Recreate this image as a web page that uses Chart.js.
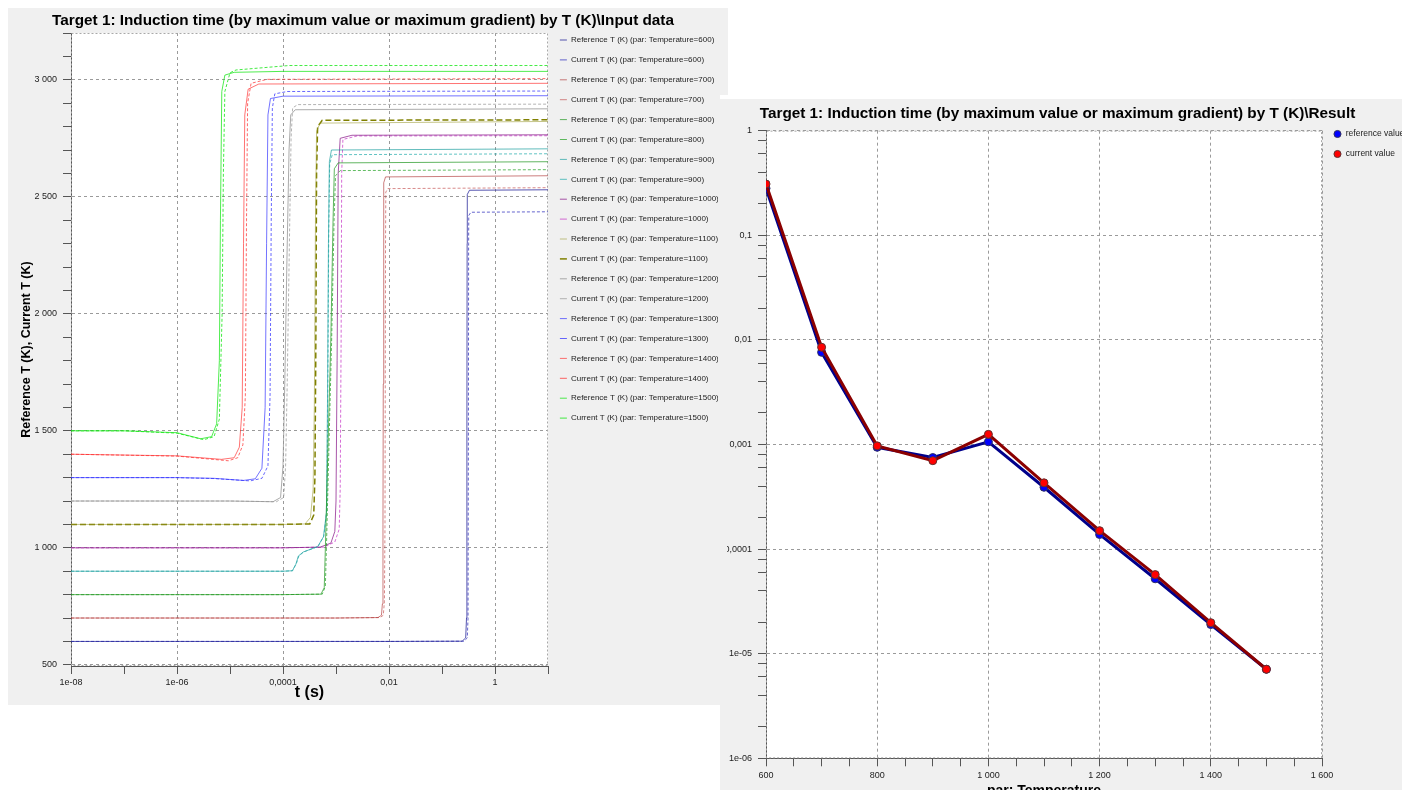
<!DOCTYPE html>
<html lang="en">
<head>
    <meta charset="UTF-8">
    <title>Induction time - Input data / Result</title>
    <script src="https://cdn.jsdelivr.net/npm/chart.js@4.4.0/dist/chart.umd.min.js"></script>
    <style>
        body { margin: 0; background: #fff; width: 1402px; height: 790px; overflow: hidden; position: relative; }
        #leftPanel { position: absolute; left: 8px; top: 8px; width: 720px; height: 697px; background: #f0f0f0; }
        #rightPanel { position: absolute; left: 720px; top: 95px; width: 682px; height: 695px; background: #f0f0f0;
                      border-top: 4px solid #fff; box-sizing: border-box; }
        #rightClip { position: absolute; left: 7px; top: 0; width: 675px; height: 691px; overflow: hidden; }
        #rightChart { position: absolute; left: -14px; top: 0; }
    </style>
</head>
<body>

<div id="leftPanel">
    <canvas id="leftChart" width="720" height="697"></canvas>
</div>
<div id="rightPanel">
    <div id="rightClip">
        <canvas id="rightChart" width="689" height="705"></canvas>
    </div>
</div>

<script>
    // ---- Input data: T (K) against t (s), pairs of [t, T] ----
    var ref600  = [[1e-8,600],[1e-2,600],[0.24,601],[0.28,615],[0.29,700],[0.295,1500],[0.298,2300],[0.30,2510],[0.33,2528],[10,2530]];
    var cur600  = [[1e-8,600],[1e-2,600],[0.26,601],[0.30,615],[0.31,700],[0.315,1500],[0.318,2300],[0.32,2420],[0.35,2434],[10,2436]];
    var ref700  = [[1e-8,700],[1e-3,700],[6.2e-3,702],[7.2e-3,712],[7.5e-3,760],[7.7e-3,1100],[7.8e-3,1700],[7.9e-3,2300],[8.0e-3,2560],[8.6e-3,2585],[10,2590]];
    var cur700  = [[1e-8,700],[1e-3,700],[6.8e-3,702],[7.8e-3,712],[8.2e-3,770],[8.4e-3,1100],[8.5e-3,1700],[8.6e-3,2300],[8.7e-3,2520],[9.5e-3,2535],[10,2539]];
    var ref800  = [[1e-8,800],[1e-4,800],[5.2e-4,802],[6e-4,830],[6.3e-4,1000],[7e-4,1400],[8e-4,1900],[8.8e-4,2400],[9.3e-4,2620],[1.1e-3,2645],[10,2650]];
    var cur800  = [[1e-8,800],[1e-4,800],[5.5e-4,802],[6.3e-4,835],[6.6e-4,1000],[7.3e-4,1400],[8.3e-4,1900],[9.2e-4,2400],[9.8e-4,2590],[1.2e-3,2612],[10,2616]];
    var ref900  = [[1e-8,900],[1e-4,900],[1.5e-4,902],[1.75e-4,930],[1.95e-4,965],[2.4e-4,982],[4.5e-4,1005],[5.8e-4,1047],[6.6e-4,1150],[6.9e-4,1600],[7.2e-4,2300],[7.5e-4,2650],[8.2e-4,2700],[10,2705]];
    var cur900  = [[1e-8,900],[1e-4,900],[1.52e-4,902],[1.8e-4,935],[2e-4,966],[2.5e-4,983],[4.6e-4,1006],[5.9e-4,1050],[6.7e-4,1160],[7e-4,1650],[7.3e-4,2350],[7.6e-4,2640],[8.5e-4,2680],[10,2684]];
    var ref1000 = [[1e-8,1000],[1e-4,1000],[5e-4,1003],[8e-4,1020],[9.5e-4,1070],[1.0e-3,1200],[1.05e-3,1800],[1.1e-3,2600],[1.2e-3,2750],[2e-3,2763],[10,2765]];
    var cur1000 = [[1e-8,1000],[1e-4,1000],[6e-4,1003],[9.5e-4,1025],[1.15e-3,1080],[1.2e-3,1250],[1.25e-3,1900],[1.28e-3,2600],[1.35e-3,2745],[2.5e-3,2760],[10,2761]];
    var ref1100 = [[1e-8,1100],[1e-4,1100],[2.6e-4,1102],[3.3e-4,1130],[3.7e-4,1250],[3.9e-4,1600],[4.1e-4,2400],[4.3e-4,2780],[5e-4,2815],[10,2822]];
    var cur1100 = [[1e-8,1100],[1e-4,1100],[3.2e-4,1102],[3.8e-4,1140],[4.0e-4,1300],[4.15e-4,1800],[4.3e-4,2600],[4.5e-4,2800],[5.5e-4,2827],[10,2829]];
    var ref1200 = [[1e-8,1200],[1e-5,1200],[6.5e-5,1197],[9e-5,1215],[1.0e-4,1350],[1.08e-4,1700],[1.18e-4,2200],[1.3e-4,2700],[1.4e-4,2850],[1.7e-4,2872],[10,2876]];
    var cur1200 = [[1e-8,1200],[1e-5,1200],[7.5e-5,1197],[1.03e-4,1215],[1.12e-4,1350],[1.2e-4,1700],[1.32e-4,2300],[1.42e-4,2750],[1.52e-4,2880],[1.9e-4,2894],[10,2896]];
    var ref1300 = [[1e-8,1300],[1e-6,1300],[5e-6,1297],[1.8e-5,1288],[3e-5,1295],[4e-5,1340],[4.6e-5,1600],[4.9e-5,2300],[5.2e-5,2850],[5.8e-5,2920],[1e-4,2930],[10,2932]];
    var cur1300 = [[1e-8,1300],[1e-6,1300],[5e-6,1296],[2.4e-5,1286],[4e-5,1297],[5.2e-5,1350],[5.7e-5,1650],[6e-5,2400],[6.3e-5,2880],[7e-5,2940],[1.2e-4,2950],[10,2952]];
    var ref1400 = [[1e-8,1400],[1e-6,1393],[6.9e-6,1378],[1.2e-5,1385],[1.5e-5,1430],[1.7e-5,1600],[1.8e-5,2300],[1.9e-5,2850],[2.2e-5,2960],[3.5e-5,2982],[10,2985]];
    var cur1400 = [[1e-8,1400],[1e-6,1392],[9.3e-6,1372],[1.4e-5,1385],[1.75e-5,1440],[1.95e-5,1650],[2.05e-5,2400],[2.15e-5,2900],[2.5e-5,2985],[5e-5,3002],[10,3005]];
    var ref1500 = [[1e-8,1500],[1e-7,1500],[1e-6,1492],[2.8e-6,1466],[4.5e-6,1475],[5.6e-6,1530],[6.3e-6,1800],[6.6e-6,2400],[7.0e-6,2950],[8.0e-6,3020],[1.2e-5,3032],[1e-4,3036],[10,3036]];
    var cur1500 = [[1e-8,1500],[1e-7,1500],[1e-6,1490],[3.2e-6,1462],[5e-6,1475],[6.3e-6,1550],[7.1e-6,2000],[7.5e-6,2600],[8.0e-6,2950],[1e-5,3030],[1.3e-5,3042],[1.3e-4,3061],[10,3061]];

    var inputTemps = [600, 700, 800, 900, 1000, 1100, 1200, 1300, 1400, 1500];
    var refCurves = [ref600, ref700, ref800, ref900, ref1000, ref1100, ref1200, ref1300, ref1400, ref1500];
    var curCurves = [cur600, cur700, cur800, cur900, cur1000, cur1100, cur1200, cur1300, cur1400, cur1500];

    // left axis ticks
    var leftXTicks = [1e-8, 1e-7, 1e-6, 1e-5, 1e-4, 1e-3, 1e-2, 1e-1, 1, 10];
    var leftXLabels = ['1e-08', '', '1e-06', '', '0,0001', '', '0,01', '', '1', ''];
    var leftYMajor = [500, 1000, 1500, 2000, 2500, 3000];

    // ---- Result: induction time against par: Temperature ----
    var resultTemps = [600, 700, 800, 900, 1000, 1100, 1200, 1300, 1400, 1500];
    var referenceValues = [0.281, 0.0076, 0.00094, 0.00075, 0.00106, 0.00039, 0.000138, 5.2e-5, 1.9e-5, 7.1e-6];
    var currentValues = [0.309, 0.0085, 0.00097, 0.00070, 0.00125, 0.00043, 0.00015, 5.7e-5, 1.98e-5, 7.1e-6];

    var rightYDecades = [1e-6, 1e-5, 1e-4, 1e-3, 1e-2, 1e-1, 1];
    var rightYLabels = ['1e-06', '1e-05', '0,0001', '0,001', '0,01', '0,1', '1'];
    var rightXMajor = [600, 800, 1000, 1200, 1400, 1600];

    // styles (one per temperature)
    var refColors = ['rgba(30,30,150,0.75)', 'rgba(170,40,40,0.6)', 'rgba(30,150,30,0.7)', 'rgba(30,160,160,0.7)', 'rgba(140,30,140,0.75)',
                     'rgba(150,150,40,0.55)', 'rgba(150,150,150,0.8)', 'rgba(40,40,255,0.65)', 'rgba(255,40,40,0.65)', 'rgba(20,230,20,0.75)'];
    var curColors = ['rgba(50,50,190,0.75)', 'rgba(190,60,60,0.6)', 'rgba(30,160,30,0.7)', 'rgba(30,170,170,0.7)', 'rgba(200,60,200,0.75)',
                     'rgb(128,128,0)', 'rgba(160,160,160,0.8)', 'rgba(40,40,255,0.7)', 'rgba(255,40,40,0.7)', 'rgba(20,230,20,0.8)'];

    var FONT = '"Liberation Sans", Arial, sans-serif';
    Chart.defaults.font.family = FONT;

    function fmtThousands(v) {
        if (v < 1000) return String(v);
        return Math.floor(v / 1000) + ' ' + String(v % 1000).padStart(3, '0');
    }

    // white plot area and dotted frame like the original tool
    var plotFrame = {
        id: 'plotFrame',
        beforeDraw: function (chart) {
            var a = chart.chartArea, ctx = chart.ctx;
            ctx.save();
            ctx.fillStyle = '#ffffff';
            ctx.fillRect(a.left, a.top, a.right - a.left, a.bottom - a.top);
            ctx.restore();
        },
        beforeDatasetsDraw: function (chart) {
            var a = chart.chartArea, ctx = chart.ctx;
            ctx.save();
            ctx.strokeStyle = '#a8a8a8';
            ctx.lineWidth = 1;
            ctx.setLineDash([2, 2]);
            ctx.strokeRect(a.left + 0.5, a.top + 0.5, a.right - a.left - 1, a.bottom - a.top - 1);
            ctx.restore();
        }
    };

    // ---- left chart ----
    var leftDatasets = [];
    for (var i = 0; i < inputTemps.length; i++) {
        leftDatasets.push({
            label: 'Reference T (K) (par: Temperature=' + inputTemps[i] + ')',
            data: refCurves[i],
            borderColor: refColors[i],
            borderWidth: 1,
            pointRadius: 0,
            tension: 0
        });
        leftDatasets.push({
            label: 'Current T (K) (par: Temperature=' + inputTemps[i] + ')',
            data: curCurves[i],
            borderColor: curColors[i],
            borderWidth: inputTemps[i] === 1100 ? 1.5 : 1,
            borderDash: inputTemps[i] === 1100 ? [6, 3] : [3, 2],
            pointRadius: 0,
            tension: 0
        });
    }

    new Chart(document.getElementById('leftChart'), {
        type: 'line',
        data: { datasets: leftDatasets },
        plugins: [plotFrame],
        options: {
            responsive: false,
            animation: false,
            devicePixelRatio: 1,
            layout: { padding: { left: 0, top: 0, bottom: 0, right: 10 } },
            plugins: {
                title: {
                    display: true,
                    text: 'Target 1: Induction time (by maximum value or maximum gradient) by T (K)\\Input data',
                    color: '#000',
                    font: { size: 15.3, weight: 'bold' },
                    padding: { top: 3.2, bottom: 3.44 }
                },
                legend: {
                    position: 'right',
                    align: 'start',
                    fullSize: true,
                    maxWidth: 170,
                    title: { display: true, text: ' ', padding: 0, font: { size: 10, lineHeight: '16.1px' } },
                    labels: {
                        usePointStyle: true,
                        pointStyle: 'line',
                        pointStyleWidth: 7,
                        color: '#222',
                        font: { size: 8 },
                        padding: 11.9
                    }
                },
                tooltip: { enabled: false }
            },
            scales: {
                x: {
                    type: 'logarithmic',
                    min: 1e-8,
                    max: 10,
                    afterBuildTicks: function (s) { s.ticks = leftXTicks.map(function (v) { return { value: v }; }); },
                    afterFit: function (s) { s.height = 39; },
                    ticks: {
                        autoSkip: false, maxRotation: 0, padding: 3, color: '#222', font: { size: 9 },
                        callback: function (v, idx) { return leftXLabels[idx]; }
                    },
                    grid: {
                        color: function (c) { return c.tick && leftXLabels[c.index] !== '' ? '#9a9a9a' : 'rgba(0,0,0,0)'; },
                        tickColor: '#555', tickLength: 8
                    },
                    border: { display: true, color: '#555', dash: [3, 3] },
                    title: { display: true, text: 't (s)', color: '#000', font: { size: 16, weight: 'bold' }, padding: { top: 0, bottom: 2.4 } }
                },
                y: {
                    type: 'linear',
                    min: 495,
                    max: 3200,
                    afterBuildTicks: function (s) {
                        var t = [];
                        for (var v = 500; v <= 3200; v += 100) t.push({ value: v });
                        s.ticks = t;
                    },
                    afterFit: function (s) { s.width = 63; },
                    ticks: {
                        autoSkip: false, padding: 6, color: '#222', font: { size: 9 },
                        callback: function (v) { return leftYMajor.indexOf(v) >= 0 ? fmtThousands(v) : ''; }
                    },
                    grid: {
                        color: function (c) { return c.tick && leftYMajor.indexOf(c.tick.value) >= 0 ? '#9a9a9a' : 'rgba(0,0,0,0)'; },
                        tickColor: '#555', tickLength: 8
                    },
                    border: { display: true, color: '#555', dash: [3, 3] },
                    title: { display: true, text: 'Reference T (K), Current T (K)', color: '#000', font: { size: 12.5, weight: 'bold' }, padding: { top: 11.5, bottom: 0 } }
                }
            }
        }
    });

    // ---- right chart ----
    var refPoints = resultTemps.map(function (t, k) { return [t, referenceValues[k]]; });
    var curPoints = resultTemps.map(function (t, k) { return [t, currentValues[k]]; });

    new Chart(document.getElementById('rightChart'), {
        type: 'line',
        data: {
            datasets: [
                {
                    label: 'reference value',
                    data: refPoints,
                    order: 1,
                    borderColor: '#00008b',
                    borderWidth: 3,
                    pointRadius: 4,
                    pointBackgroundColor: '#0000ff',
                    pointBorderColor: '#303060',
                    pointBorderWidth: 1,
                    tension: 0
                },
                {
                    label: 'current value',
                    data: curPoints,
                    order: 0,
                    borderColor: '#8b0000',
                    borderWidth: 3,
                    pointRadius: 4,
                    pointBackgroundColor: '#ff0000',
                    pointBorderColor: '#603030',
                    pointBorderWidth: 1,
                    tension: 0
                }
            ]
        },
        plugins: [plotFrame],
        options: {
            responsive: false,
            animation: false,
            devicePixelRatio: 1,
            layout: { padding: 0 },
            plugins: {
                title: {
                    display: true,
                    text: 'Target 1: Induction time (by maximum value or maximum gradient) by T (K)\\Result',
                    color: '#000',
                    font: { size: 15.3, weight: 'bold' },
                    padding: { top: 5.8, bottom: 7.5 }
                },
                legend: {
                    position: 'right',
                    align: 'start',
                    fullSize: true,
                    maxWidth: 80,
                    title: { display: true, text: ' ', padding: 0, font: { size: 10, lineHeight: '19.25px' } },
                    labels: {
                        usePointStyle: true,
                        pointStyle: 'circle',
                        boxWidth: 8,
                        boxHeight: 5,
                        color: '#222',
                        font: { size: 8.5 },
                        padding: 11.5,
                        sort: function (a, b) { return a.datasetIndex - b.datasetIndex; }
                    }
                },
                tooltip: { enabled: false }
            },
            scales: {
                x: {
                    type: 'linear',
                    min: 600,
                    max: 1600,
                    afterBuildTicks: function (s) {
                        var t = [];
                        for (var v = 600; v <= 1600; v += 50) t.push({ value: v });
                        s.ticks = t;
                    },
                    afterFit: function (s) { s.height = 45.7; },
                    ticks: {
                        autoSkip: false, maxRotation: 0, padding: 4, color: '#222', font: { size: 9 },
                        callback: function (v) { return rightXMajor.indexOf(v) >= 0 ? fmtThousands(v) : ''; }
                    },
                    grid: {
                        color: function (c) { return c.tick && rightXMajor.indexOf(c.tick.value) >= 0 ? '#9a9a9a' : 'rgba(0,0,0,0)'; },
                        tickColor: '#555', tickLength: 8
                    },
                    border: { display: true, color: '#555', dash: [3, 3] },
                    title: { display: true, text: 'par: Temperature', color: '#000', font: { size: 14, weight: 'bold' }, padding: { top: 0, bottom: 4.6 } }
                },
                y: {
                    type: 'logarithmic',
                    min: 1e-6,
                    max: 1,
                    afterBuildTicks: function (s) {
                        var t = [];
                        rightYDecades.forEach(function (d, k) {
                            t.push({ value: d });
                            if (k < rightYDecades.length - 1) {
                                [2, 4, 6, 8].forEach(function (m) { t.push({ value: d * m }); });
                            }
                        });
                        s.ticks = t;
                    },
                    afterFit: function (s) { s.width = 53; },
                    ticks: {
                        autoSkip: false, padding: 6, color: '#222', font: { size: 9 },
                        callback: function (v) {
                            for (var k = 0; k < rightYDecades.length; k++) {
                                if (Math.abs(v / rightYDecades[k] - 1) < 1e-6) return rightYLabels[k];
                            }
                            return '';
                        }
                    },
                    grid: {
                        color: function (c) {
                            if (!c.tick) return 'rgba(0,0,0,0)';
                            var lg = Math.log10(c.tick.value);
                            return Math.abs(lg - Math.round(lg)) < 1e-6 ? '#9a9a9a' : 'rgba(0,0,0,0)';
                        },
                        tickColor: '#555', tickLength: 8
                    },
                    border: { display: true, color: '#555', dash: [3, 3] }
                }
            }
        }
    });
</script>

</body>
</html>
